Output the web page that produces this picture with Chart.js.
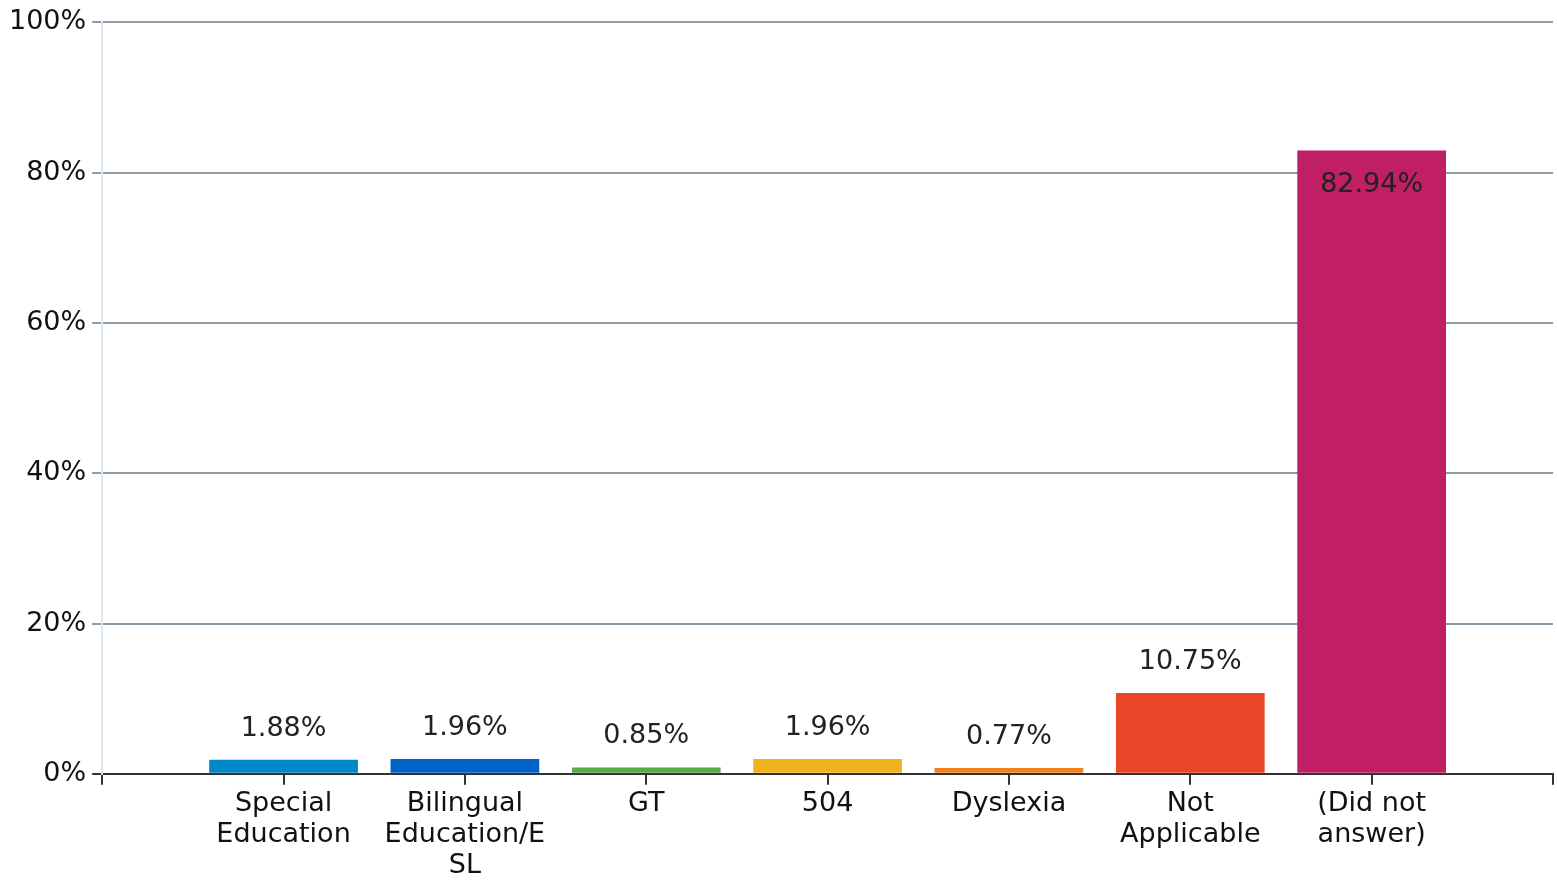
<!DOCTYPE html>
<html>
<head>
<meta charset="utf-8">
<script src="https://cdn.jsdelivr.net/npm/chart.js@4"></script>
<style>
  html, body { margin: 0; padding: 0; background: #fff; }
  #wrap { width: 1557px; height: 886px; }
</style>
</head>
<body>
<div id="wrap"><canvas id="chart" width="1557" height="886"></canvas></div>
<script>
// categories (empty slots at both ends keep the axis running from edge to edge)
const categories = [
    "",
    ["Special", "Education"],
    ["Bilingual", "Education/E", "SL"],
    "GT",
    "504",
    "Dyslexia",
    ["Not", "Applicable"],
    ["(Did not", "answer)"],
    ""
];
const percentages = [null, 1.88, 1.96, 0.85, 1.96, 0.77, 10.75, 82.94, null];
const barColours = [null, "#0087c9", "#0063c7", "#5aab47", "#f2b21f", "#f2801f", "#e94527", "#c01f66", null];
const yTicks = [0, 20, 40, 60, 80, 100];

const fontFamily = "'DejaVu Sans', sans-serif";
const fontSize = 27;

// draws the value above each bar, or inside it when the bar is tall
const valueLabels = {
    id: "value_labels",
    afterDatasetsDraw: (chart) => {
        const ctx = chart.ctx;
        const meta = chart.getDatasetMeta(0);
        ctx.save();
        ctx.font = `${fontSize}px ${fontFamily}`;
        ctx.fillStyle = "#222";
        ctx.textAlign = "center";
        ctx.textBaseline = "alphabetic";
        meta.data.forEach((bar, i) => {
            const v = percentages[i];
            if (v == null) return;
            const text = v.toFixed(2) + "%";
            if (v > 50) {
                ctx.fillText(text, bar.x, bar.y + 42);
            } else {
                ctx.fillText(text, bar.x, bar.y - 24);
            }
        });
        ctx.restore();
    }
};

new Chart(document.getElementById("chart").getContext("2d"), {
    type: "bar",
    data: {
        labels: categories,
        datasets: [{
            data: percentages,
            backgroundColor: barColours,
            borderWidth: 0,
            categoryPercentage: 1,
            barPercentage: 0.82,
        }]
    },
    options: {
        responsive: false,
        animation: false,
        devicePixelRatio: 1,
        layout: { padding: { left: 3, top: 5, right: 0, bottom: 0 } },
        plugins: {
            legend: { display: false },
            tooltip: { enabled: false },
        },
        scales: {
            x: {
                offset: false,
                grid: {
                    offset: false,
                    drawOnChartArea: false,
                    drawTicks: true,
                    tickLength: 11,
                    color: "#333",
                    lineWidth: 2,
                },
                border: { color: "#333", width: 2 },
                ticks: {
                    autoSkip: false,
                    maxRotation: 0,
                    padding: 4,
                    color: "#111",
                    font: { family: fontFamily, size: fontSize, lineHeight: 1.15 },
                },
            },
            y: {
                min: 0,
                max: 100,
                afterBuildTicks: (axis) => { axis.ticks = yTicks.map(v => ({ value: v })); },
                grid: {
                    color: (c) => (c.tick && c.tick.value === 0 ? "#333" : "#8c9ca6"),
                    lineWidth: 2,
                    tickLength: 10,
                },
                border: { color: "#dfe4ee", width: 2 },
                ticks: {
                    padding: 6,
                    color: "#111",
                    font: { family: fontFamily, size: fontSize },
                    callback: (v) => v + "%",
                },
            },
        },
    },
    plugins: [valueLabels],
});
</script>
</body>
</html>
